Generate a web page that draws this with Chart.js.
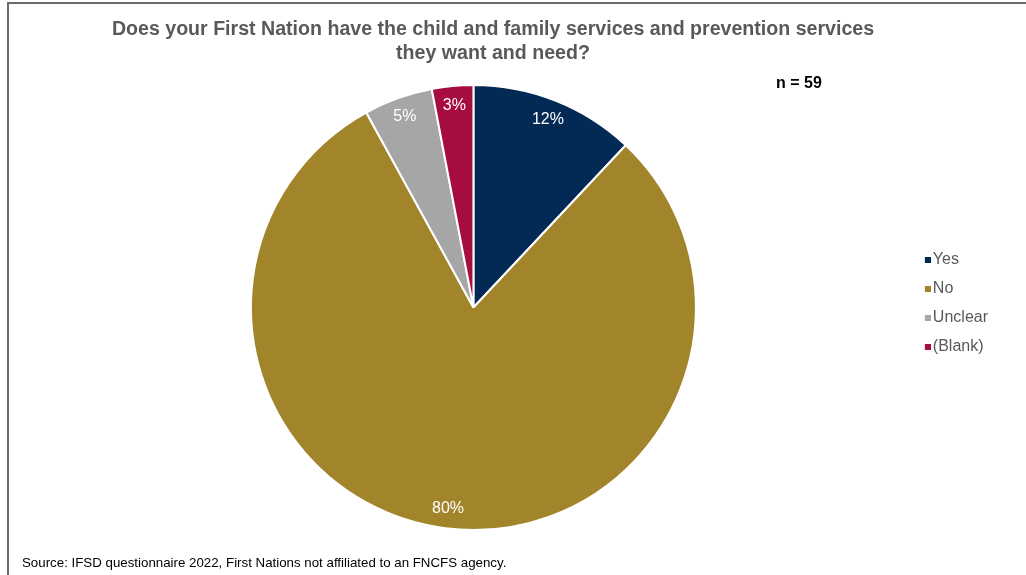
<!DOCTYPE html>
<html>
<head>
<meta charset="utf-8">
<script src="https://cdn.jsdelivr.net/npm/chart.js@4.4.1/dist/chart.umd.min.js"></script>
<style>
  body { margin: 0; background: #fff; font-family: "Liberation Sans", Arial, sans-serif; }
  #wrap { position: relative; width: 1026px; height: 575px; overflow: hidden; }
  #frame { position: absolute; left: 7px; top: 2px; right: -10px; bottom: -10px;
           border-left: 2px solid #6b6b6b; border-top: 2px solid #6b6b6b; }
  #titulo { position: absolute; left: 43px; width: 900px; top: 16px; text-align: center;
            font-weight: bold; font-size: 19.6px; line-height: 24px; color: #595959; }
  #amostra { position: absolute; left: 776px; top: 74px; font-weight: bold; font-size: 16px; color: #000; }
  #fonte { position: absolute; left: 22px; top: 555px; font-size: 13.3px; color: #000; }
  #grafico { position: absolute; left: 9px; top: 4px; }
</style>
</head>
<body>
<div id="wrap">
  <div id="frame"></div>
  <canvas id="grafico" width="1017" height="571"></canvas>
  <div id="titulo">Does your First Nation have the child and family services and prevention services<br>they want and need?</div>
  <div id="amostra">n = 59</div>
  <div id="fonte">Source: IFSD questionnaire 2022, First Nations not affiliated to an FNCFS agency.</div>
</div>
<script>
// respostas (percentual do total, n = 59)
const categorias = ['Yes', 'No', 'Unclear', '(Blank)'];
const percentuais = [12, 80, 5, 3];
const cores = ['#022a54', '#a2852b', '#a6a6a6', '#a60c3e'];

// quadradinho da legenda encostado no texto (desenhado no lado direito de um canvas largo)
function marcador(cor) {
    const c = document.createElement('canvas');
    c.width = 22;
    c.height = 6;
    const g = c.getContext('2d');
    g.fillStyle = cor;
    g.fillRect(16, 0, 6, 6);
    return c;
}

// escreve o percentual dentro de cada fatia
const rotulosFatias = {
    id: 'rotulosFatias',
    afterDatasetsDraw(chart) {
        const ctx = chart.ctx;
        const meta = chart.getDatasetMeta(0);
        ctx.save();
        ctx.font = '16px "Liberation Sans", Arial, sans-serif';
        ctx.fillStyle = '#ffffff';
        ctx.textAlign = 'center';
        ctx.textBaseline = 'middle';
        meta.data.forEach((arco, i) => {
            const meio = (arco.startAngle + arco.endAngle) / 2;
            const r = arco.outerRadius * 0.91;
            ctx.fillText(percentuais[i] + '%', arco.x + Math.cos(meio) * r, arco.y + Math.sin(meio) * r);
        });
        ctx.restore();
    }
};

// sobe um pouco a legenda
const ajusteLegenda = {
    id: 'ajusteLegenda',
    afterLayout(chart) {
        chart.legend.top -= 4;
        chart.legend.bottom -= 4;
    }
};

const dados = {
    labels: categorias,
    datasets: [{
        data: percentuais,
        backgroundColor: cores,
        borderColor: '#ffffff',
        borderWidth: 2
    }]
};

var configuracao = {
    type: 'pie',
    data: dados,
    options: {
        responsive: false,
        animation: false,
        layout: { padding: { left: 36, right: 28, top: 80, bottom: 44 } },
        plugins: {
            tooltip: { enabled: false },
            legend: {
                position: 'right',
                labels: {
                    usePointStyle: true,
                    pointStyleWidth: 10,
                    boxHeight: 6,
                    padding: 13,
                    color: '#595959',
                    font: { family: '"Liberation Sans", Arial, sans-serif', size: 16 },
                    generateLabels(chart) {
                        return Chart.controllers.pie.overrides.plugins.legend.labels.generateLabels(chart)
                            .map((item, i) => Object.assign(item, { lineWidth: 0, pointStyle: marcador(cores[i]) }));
                    }
                }
            }
        }
    },
    plugins: [rotulosFatias, ajusteLegenda]
};

var meuGrafico = new Chart(document.getElementById('grafico'), configuracao);
</script>
</body>
</html>
